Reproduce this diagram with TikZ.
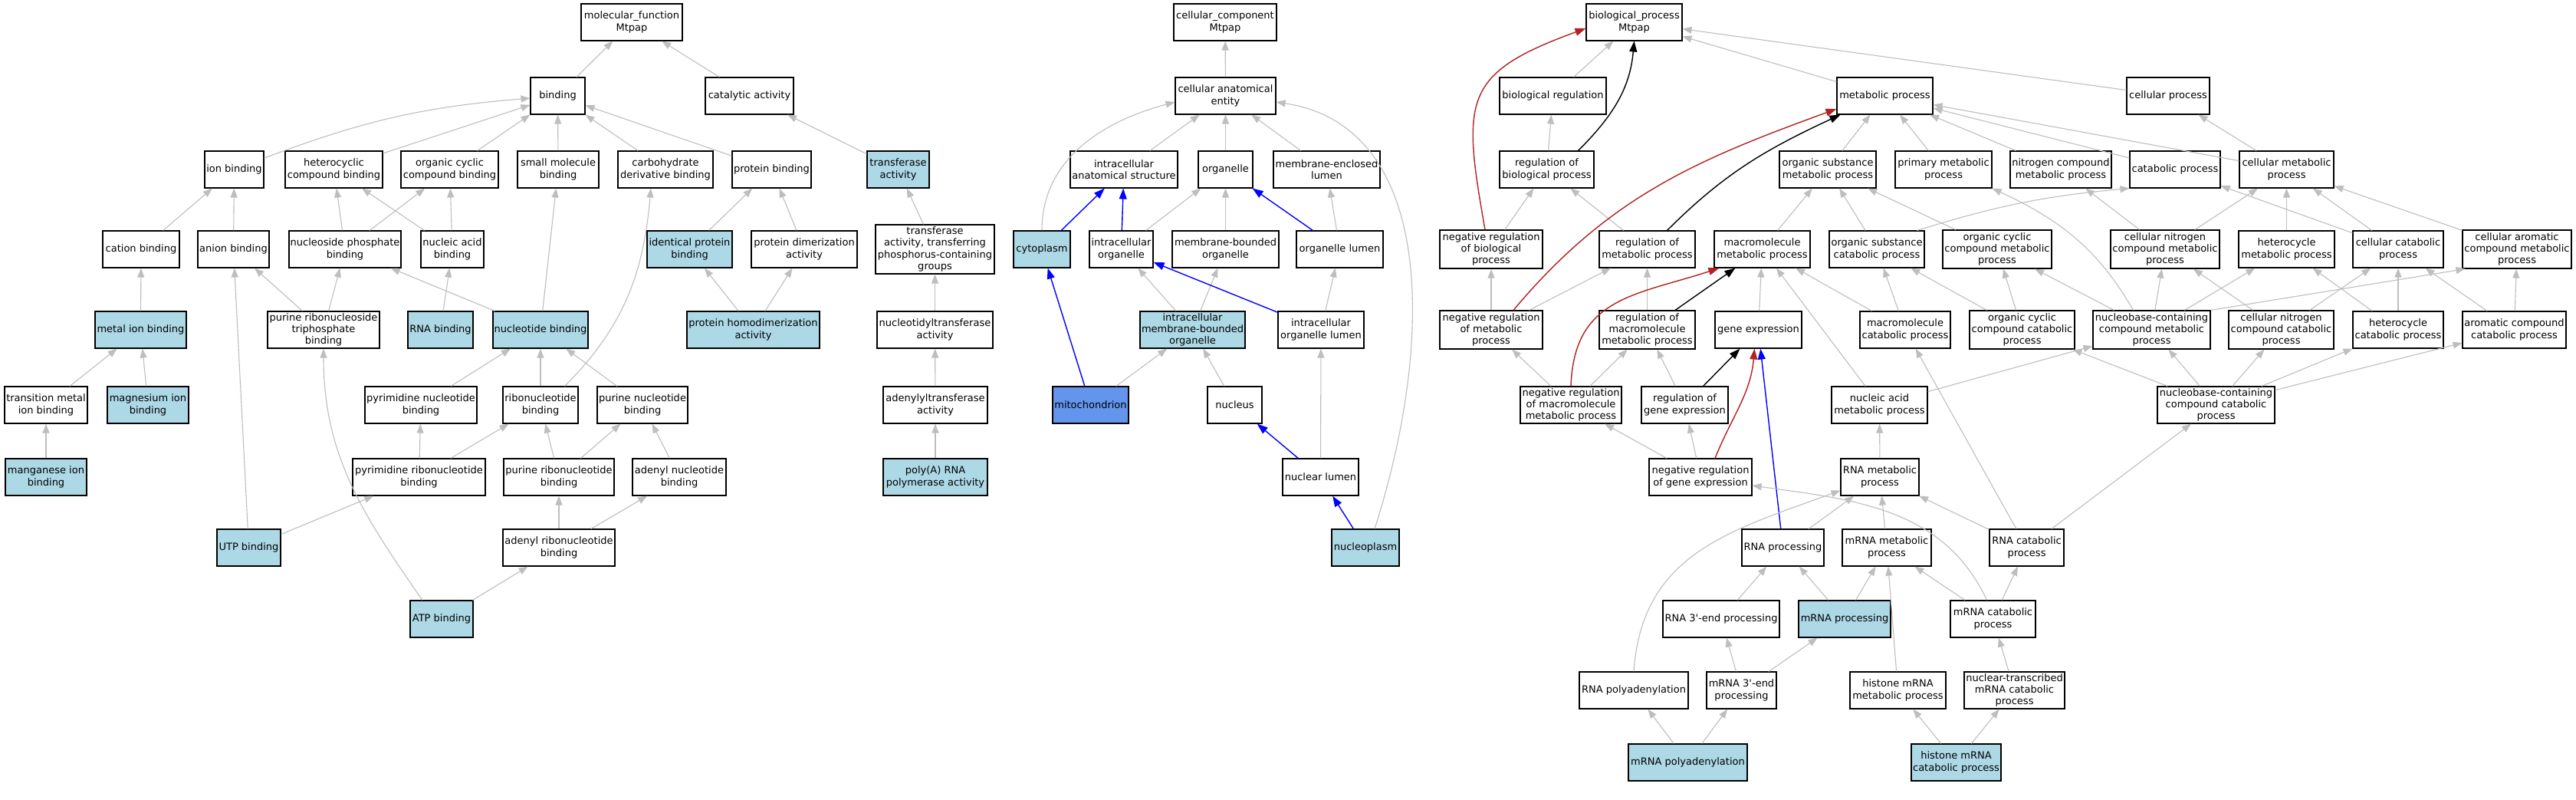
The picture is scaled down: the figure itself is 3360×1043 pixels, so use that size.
\documentclass[tikz,border=0pt]{standalone}
\usepackage{fontspec}
\setmainfont{DejaVu Sans}
\usetikzlibrary{arrows.meta}
\definecolor{seedblue}{HTML}{ADD8E6}
\definecolor{mitoblue}{HTML}{6495ED}
\definecolor{edgegrey}{HTML}{BEBEBE}
\definecolor{firebrick}{HTML}{B22222}
\tikzset{
  term/.style={draw=black, line width=1.1pt, fill=white, align=center, inner sep=1pt,
    minimum height=48pt, font=\fontsize{13}{15.3}\selectfont},
  seed/.style={term, fill=seedblue},
  isa/.style={draw=edgegrey, line width=1.1pt, -{Triangle[length=12pt,width=9pt]}},
  partof/.style={draw=blue, line width=1.4pt, -{Triangle[length=14pt,width=10pt]}},
  regul/.style={draw=black, line width=1.4pt, -{Triangle[length=14pt,width=10pt]}},
  negregul/.style={draw=firebrick, line width=1.4pt, -{Triangle[length=14pt,width=10pt]}}
}

\begin{document}
\begin{tikzpicture}[x=1pt, y=-1pt]
			\useasboundingbox (0,0) rectangle (3360,1043);
			\fill[white] (0,0) rectangle (3360,1043);
			%%%%% MOLECULAR FUNCTION %%%%%
			\node[term, minimum width=132] (mf) at (824,29) {molecular\_function\\Mtpap};
			\node[term, minimum width=71] (binding) at (727.5,125) {binding};
			\node[term, minimum width=115] (catact) at (977.5,125) {catalytic activity};
			
			\node[term, minimum width=77] (ionb) at (305.5,221) {ion binding};
			\node[term, minimum width=127] (hetb) at (435.5,221) {heterocyclic\\compound binding};
			\node[term, minimum width=127] (ocyb) at (586.5,221) {organic cyclic\\compound binding};
			\node[term, minimum width=106] (smb) at (728,221) {small molecule\\binding};
			\node[term, minimum width=124] (carb) at (868,221) {carbohydrate\\derivative binding};
			\node[term, minimum width=103] (protb) at (1006.5,221) {protein binding};
			
			\node[term, minimum width=100] (catb) at (184,325) {cation binding};
			\node[term, minimum width=93] (anib) at (304.5,325) {anion binding};
			\node[term, minimum width=146] (nspb) at (450,325) {nucleoside phosphate\\binding};
			\node[term, minimum width=82] (nacb) at (590,325) {nucleic acid\\binding};
			\node[seed, minimum width=111] (idpb) at (899.5,325) {identical protein\\binding};
			\node[term, minimum width=138] (pdim) at (1049,325) {protein dimerization\\activity};
			
			\node[seed, minimum width=119] (metb) at (183.5,430) {metal ion binding};
			\node[term, minimum width=146] (prtb) at (422,430) {purine ribonucleoside\\triphosphate\\binding};
			\node[seed, minimum width=85] (rnab) at (574.5,430) {RNA binding};
			\node[seed, minimum width=124] (nucb) at (705,430) {nucleotide binding};
			\node[seed, minimum width=173] (phom) at (982.5,430) {protein homodimerization\\activity};
			
			\node[term, minimum width=108] (tmib) at (60,528) {transition metal\\ion binding};
			\node[seed, minimum width=106] (mgb) at (193,528) {magnesium ion\\binding};
			\node[term, minimum width=146] (pynb) at (549,528) {pyrimidine nucleotide\\binding};
			\node[term, minimum width=98] (ribb) at (705,528) {ribonucleotide\\binding};
			\node[term, minimum width=118] (punb) at (838,528) {purine nucleotide\\binding};
			
			\node[seed, minimum width=106] (mnb) at (60,622) {manganese ion\\binding};
			\node[term, minimum width=173] (pyrb) at (546.5,622) {pyrimidine ribonucleotide\\binding};
			\node[term, minimum width=144] (purb) at (729,622) {purine ribonucleotide\\binding};
			\node[term, minimum width=122] (adnb) at (886,622) {adenyl nucleotide\\binding};
			
			\node[seed, minimum width=83] (utpb) at (324.5,714) {UTP binding};
			\node[term, minimum width=146] (adrb) at (729,714) {adenyl ribonucleotide\\binding};
			\node[seed, minimum width=82] (atpb) at (576,807) {ATP binding};
			
			\node[seed, minimum width=81] (trf) at (1171.5,221) {transferase\\activity};
			\node[term, minimum width=155, minimum height=64] (trfp) at (1219.5,325) {transferase\\activity, transferring\\phosphorus-containing\\groups};
			\node[term, minimum width=151] (ntt) at (1219.5,430) {nucleotidyltransferase\\activity};
			\node[term, minimum width=136] (adt) at (1220,528) {adenylyltransferase\\activity};
			\node[seed, minimum width=136] (papb) at (1220,622) {poly(A) RNA\\polymerase activity};
			
			%%%%% CELLULAR COMPONENT %%%%%
			\node[term, minimum width=134] (cc) at (1598,29) {cellular\_component\\Mtpap};
			\node[term, minimum width=131] (cae) at (1598.5,125) {cellular anatomical\\entity};
			\node[term, minimum width=140] (ias) at (1466,221) {intracellular\\anatomical structure};
			\node[term, minimum width=71] (org) at (1598.5,221) {organelle};
			\node[term, minimum width=139] (mel) at (1730.5,221) {membrane-enclosed\\lumen};
			\node[seed, minimum width=74] (cyt) at (1359,325) {cytoplasm};
			\node[term, minimum width=83] (iorg) at (1462.5,325) {intracellular\\organelle};
			\node[term, minimum width=139] (mbo) at (1598.5,325) {membrane-bounded\\organelle};
			\node[term, minimum width=113] (orgl) at (1747.5,325) {organelle lumen};
			\node[seed, minimum width=137] (imbo) at (1555.5,430) {intracellular\\membrane-bounded\\organelle};
			\node[term, minimum width=112] (iol) at (1723,430) {intracellular\\organelle lumen};
			\node[term, fill=mitoblue, minimum width=99] (mito) at (1422.5,528) {mitochondrion};
			\node[term, minimum width=71] (nucl) at (1610.5,528) {nucleus};
			\node[term, minimum width=99] (nlum) at (1722.5,622) {nuclear lumen};
			\node[seed, minimum width=88] (nplm) at (1781,714) {nucleoplasm};
			
			%%%%% BIOLOGICAL PROCESS %%%%%
			\node[term, minimum width=125] (bp) at (2131.5,29) {biological\_process\\Mtpap};
			\node[term, minimum width=139] (breg) at (2025.5,125) {biological regulation};
			\node[term, minimum width=125] (metp) at (2458.5,125) {metabolic process};
			\node[term, minimum width=108] (celp) at (2828,125) {cellular process};
			
			\node[term, minimum width=123] (rbp) at (2017.5,221) {regulation of\\biological process};
			\node[term, minimum width=126] (osmp) at (2384,221) {organic substance\\metabolic process};
			\node[term, minimum width=126] (pmp) at (2535,221) {primary metabolic\\process};
			\node[term, minimum width=132] (ncmp) at (2688,221) {nitrogen compound\\metabolic process};
			\node[term, minimum width=118] (catp) at (2837,221) {catabolic process};
			\node[term, minimum width=123] (cmp) at (2982.5,221) {cellular metabolic\\process};
			
			\node[term, minimum width=134, minimum height=50] (nrbp) at (1945,325) {negative regulation\\of biological\\process};
			\node[term, minimum width=125] (rmp) at (2148.5,325) {regulation of\\metabolic process};
			\node[term, minimum width=125] (mmp) at (2298.5,325) {macromolecule\\metabolic process};
			\node[term, minimum width=124] (oscp) at (2448,325) {organic substance\\catabolic process};
			\node[term, minimum width=142, minimum height=50] (occmp) at (2605,325) {organic cyclic\\compound metabolic\\process};
			\node[term, minimum width=142, minimum height=50] (cncmp) at (2824,325) {cellular nitrogen\\compound metabolic\\process};
			\node[term, minimum width=125] (hmp) at (2982.5,325) {heterocycle\\metabolic process};
			\node[term, minimum width=118] (ccp) at (3128,325) {cellular catabolic\\process};
			\node[term, minimum width=142, minimum height=50] (camp) at (3283,325) {cellular aromatic\\compound metabolic\\process};
			
			\node[term, minimum width=134, minimum height=50] (nrmp) at (1945,430) {negative regulation\\of metabolic\\process};
			\node[term, minimum width=125, minimum height=50] (rmmp) at (2148.5,430) {regulation of\\macromolecule\\metabolic process};
			\node[term, minimum width=113] (gexp) at (2293.5,430) {gene expression};
			\node[term, minimum width=118] (mcp) at (2485,430) {macromolecule\\catabolic process};
			\node[term, minimum width=137, minimum height=50] (occp) at (2637.5,430) {organic cyclic\\compound catabolic\\process};
			\node[term, minimum width=153, minimum height=50] (nbcmp) at (2806.5,430) {nucleobase-containing\\compound metabolic\\process};
			\node[term, minimum width=137, minimum height=50] (cnccp) at (2975.5,430) {cellular nitrogen\\compound catabolic\\process};
			\node[term, minimum width=118] (hcp) at (3128,430) {heterocycle\\catabolic process};
			\node[term, minimum width=135] (accp) at (3279.5,430) {aromatic compound\\catabolic process};
			
			\node[term, minimum width=132] (nrmmp) at (2049,528) {negative regulation\\of macromolecule\\metabolic process};
			\node[term, minimum width=113] (rge) at (2197.5,528) {regulation of\\gene expression};
			\node[term, minimum width=125] (namp) at (2451.5,528) {nucleic acid\\metabolic process};
			\node[term, minimum width=153] (nbccp) at (2890.5,528) {nucleobase-containing\\compound catabolic\\process};
			
			\node[term, minimum width=134] (nrge) at (2218,622) {negative regulation\\of gene expression};
			\node[term, minimum width=102] (rnamp) at (2452,622) {RNA metabolic\\process};
			\node[term, minimum width=107] (rnap) at (2325.5,714) {RNA processing};
			\node[term, minimum width=116] (mrmp) at (2461,714) {mRNA metabolic\\process};
			\node[term, minimum width=97] (rncp) at (2643.5,714) {RNA catabolic\\process};
			\node[term, minimum width=152] (r3ep) at (2245,807) {RNA 3\textquotesingle-end processing};
			\node[seed, minimum width=120] (mrnp) at (2406,807) {mRNA processing};
			\node[term, minimum width=111] (mrcp) at (2599.5,807) {mRNA catabolic\\process};
			\node[term, minimum width=142] (rpa) at (2131,900) {RNA polyadenylation};
			\node[term, minimum width=91] (m3ep) at (2271.5,900) {mRNA 3\textquotesingle-end\\processing};
			\node[term, minimum width=125] (hmmp) at (2475.5,900) {histone mRNA\\metabolic process};
			\node[term, minimum width=131] (ntmcp) at (2627.5,900) {nuclear-transcribed\\mRNA catabolic\\process};
			\node[seed, minimum width=155] (mpa) at (2201.5,994) {mRNA polyadenylation};
			\node[seed, minimum width=117] (hmcp) at (2551.5,994) {histone mRNA\\catabolic process};
			
			%%%%% EDGES: MOLECULAR FUNCTION %%%%%
			\draw[isa] (binding) -- (mf);
			\draw[isa] (catact) -- (mf);
			\draw[isa] (ionb) to[bend left=8] (binding);
			\draw[isa] (hetb) -- (binding);
			\draw[isa] (ocyb) -- (binding);
			\draw[isa] (smb) -- (binding);
			\draw[isa] (carb) -- (binding);
			\draw[isa] (protb) -- (binding);
			\draw[isa] (trf) -- (catact);
			
			\draw[isa] (catb) -- (ionb);
			\draw[isa] (anib) -- (ionb);
			\draw[isa] (nspb) -- (hetb);
			\draw[isa] (nspb) -- (ocyb);
			\draw[isa] (nacb) -- (hetb);
			\draw[isa] (nacb) -- (ocyb);
			\draw[isa] (idpb) -- (protb);
			\draw[isa] (pdim) -- (protb);
			
			\draw[isa] (metb) -- (catb);
			\draw[isa] (prtb) -- (anib);
			\draw[isa] (prtb) -- (nspb);
			\draw[isa] (rnab) -- (nacb);
			\draw[isa] (nucb) -- (nspb);
			\draw[isa] (nucb) -- (smb);
			\draw[isa] (phom) -- (idpb);
			\draw[isa] (phom) -- (pdim);
			
			\draw[isa] (tmib) -- (metb);
			\draw[isa] (mgb) -- (metb);
			\draw[isa] (pynb) -- (nucb);
			\draw[isa] (ribb) -- (nucb);
			\draw[isa] (punb) -- (nucb);
			\draw[isa] ([xshift=-18pt]ribb.north east) to[out=45,in=265] ([xshift=-19pt]carb.south);
			
			\draw[isa] (mnb) -- (tmib);
			\draw[isa] (pyrb) -- (pynb);
			\draw[isa] (pyrb) -- (ribb);
			\draw[isa] (purb) -- (ribb);
			\draw[isa] (purb) -- (punb);
			\draw[isa] (adnb) -- (punb);
			\draw[isa] (utpb) -- (anib);
			\draw[isa] (utpb) -- (pyrb);
			\draw[isa] (adrb) -- (purb);
			\draw[isa] (adrb) -- (adnb);
			\draw[isa] (atpb) -- (adrb);
			\draw[isa] ([xshift=-25pt]atpb.north) to[out=125,in=270] (prtb.south);
			
			\draw[isa] (trfp) -- (trf);
			\draw[isa] (ntt) -- (trfp);
			\draw[isa] (adt) -- (ntt);
			\draw[isa] (papb) -- (adt);
			
			%%%%% EDGES: CELLULAR COMPONENT %%%%%
			\draw[isa] (cae) -- (cc);
			\draw[isa] (ias) -- (cae);
			\draw[isa] (org) -- (cae);
			\draw[isa] (mel) -- (cae);
			\draw[isa] (cyt.north) to[out=90,in=195] ([yshift=-8pt]cae.west);
			\draw[isa] ([xshift=12pt]nplm.north) .. controls (1870,450) and (1875,165) .. ([yshift=-8pt]cae.east);
			\draw[partof] (cyt) -- (ias);
			\draw[partof] (iorg) -- (ias);
			\draw[isa] (iorg) -- (org);
			\draw[isa] (mbo) -- (org);
			\draw[partof] (orgl) -- (org);
			\draw[isa] (orgl) -- (mel);
			\draw[isa] (imbo) -- (iorg);
			\draw[isa] (imbo) -- (mbo);
			\draw[partof] (iol) -- (iorg);
			\draw[isa] (iol) -- (orgl);
			\draw[partof] (mito) -- (cyt);
			\draw[isa] (mito) -- (imbo);
			\draw[isa] (nucl) -- (imbo);
			\draw[partof] (nlum) -- (nucl);
			\draw[isa] (nlum) -- (iol);
			\draw[partof] (nplm) -- (nlum);
			
			%%%%% EDGES: BIOLOGICAL PROCESS %%%%%
			\draw[isa] (breg) -- (bp);
			\draw[regul] ([xshift=41pt]rbp.north) to[out=45,in=265] (bp.south);
			\draw[isa] (metp) -- (bp);
			\draw[isa] (celp) -- (bp);
			\draw[negregul] ([xshift=-8pt]nrbp.north) to[out=100,in=200,looseness=1.5] ([yshift=-8pt]bp.west);
			\draw[isa] (rbp) -- (breg);
			\draw[isa] (osmp) -- (metp);
			\draw[isa] (pmp) -- (metp);
			\draw[isa] (ncmp) -- (metp);
			\draw[isa] (catp) -- (metp);
			\draw[isa] (cmp) -- (metp);
			\draw[isa] (cmp) -- (celp);
			
			\draw[isa] (nrbp) -- (rbp);
			\draw[isa] (rmp) -- (rbp);
			\draw[regul] ([xshift=26pt]rmp.north) to[out=45,in=205] ([xshift=5pt]metp.south west);
			\draw[isa] (mmp) -- (osmp);
			\draw[isa] (oscp) -- (osmp);
			\draw[isa] ([xshift=-10pt]oscp.north east) to[bend left=6] (catp.south west);
			\draw[isa] (occmp) -- (osmp);
			\draw[isa] (cncmp) -- (ncmp);
			\draw[isa] (cncmp) -- (cmp);
			\draw[isa] (hmp) -- (cmp);
			\draw[isa] (ccp) -- (cmp);
			\draw[isa] (ccp) -- (catp);
			\draw[isa] (camp) -- (cmp);
			
			\draw[isa] (nrmp) -- (nrbp);
			\draw[isa] (nrmp) -- (rmp);
			\draw[negregul] ([xshift=29pt]nrmp.north) to[out=50,in=200] ([yshift=-17pt]metp.west);
			\draw[isa] (rmmp) -- (rmp);
			\draw[regul] (rmmp) -- (mmp);
			\draw[isa] (gexp) -- (mmp);
			\draw[isa] (mcp) -- (mmp);
			\draw[isa] (mcp) -- (oscp);
			\draw[isa] (occp) -- (oscp);
			\draw[isa] (occp) -- (occmp);
			\draw[isa] (nbcmp) -- (occmp);
			\draw[isa] (nbcmp) -- (cncmp);
			\draw[isa] (nbcmp) -- (hmp);
			\draw[isa] (nbcmp.north east) -- ([xshift=4pt]camp.south west);
			\draw[isa] ([xshift=-24pt]nbcmp.north) to[out=120,in=-25] (pmp.south east);
			\draw[isa] (cnccp) -- (cncmp);
			\draw[isa] (cnccp) -- (ccp);
			\draw[isa] (hcp) -- (hmp);
			\draw[isa] (hcp) -- (ccp);
			\draw[isa] (accp) -- (ccp);
			\draw[isa] (accp) -- (camp);
			
			\draw[isa] (nrmmp) -- (nrmp);
			\draw[isa] (nrmmp) -- (rmmp);
			\draw[negregul] (nrmmp.north) to[out=88,in=198,looseness=1.2] ([xshift=7pt]mmp.south west);
			\draw[isa] (rge) -- (rmmp);
			\draw[regul] (rge) -- (gexp);
			\draw[isa] (namp) -- (mmp);
			\draw[isa] (namp) -- (nbcmp);
			\draw[isa] (nbccp) -- (occp);
			\draw[isa] (nbccp) -- (nbcmp);
			\draw[isa] (nbccp) -- (cnccp);
			\draw[isa] (nbccp) -- (hcp);
			\draw[isa] (nbccp) -- (accp);
			
			\draw[isa] (nrge) -- (nrmmp);
			\draw[isa] (nrge) -- (rge);
			\draw[negregul] ([xshift=19pt]nrge.north) to[out=68,in=265] ([xshift=-5pt]gexp.south);
			\draw[partof] (rnap) -- (gexp);
			\draw[isa] (rnamp) -- (namp);
			\draw[isa] (rnap) -- (rnamp);
			\draw[isa] (mrmp) -- (rnamp);
			\draw[isa] (rncp) -- (rnamp);
			\draw[isa] (rncp) -- (mcp);
			\draw[isa] (rncp) -- (nbccp);
			\draw[isa] (rpa.north) to[out=86,in=200,looseness=1.1] ([yshift=7pt]rnamp.south west);
			\draw[isa] ([xshift=-8pt]mrcp.north) to[out=115,in=-8] ([yshift=-11pt]nrge.east);
			
			\draw[isa] (r3ep) -- (rnap);
			\draw[isa] (mrnp) -- (rnap);
			\draw[isa] (mrnp) -- (mrmp);
			\draw[isa] (mrcp) -- (mrmp);
			\draw[isa] (mrcp) -- (rncp);
			\draw[isa] (hmmp) -- (mrmp);
			\draw[isa] (m3ep) -- (r3ep);
			\draw[isa] (m3ep) -- (mrnp);
			\draw[isa] (ntmcp) -- (mrcp);
			\draw[isa] (mpa) -- (rpa);
			\draw[isa] (mpa) -- (m3ep);
			\draw[isa] (hmcp) -- (hmmp);
			\draw[isa] (hmcp) -- (ntmcp);
			%%%%% END %%%%%
\end{tikzpicture}
\end{document}
